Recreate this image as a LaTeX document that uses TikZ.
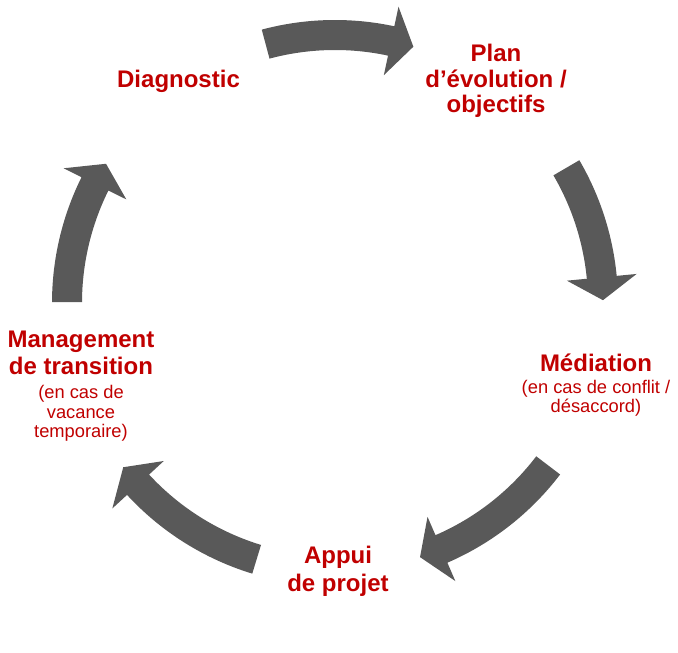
\documentclass[tikz,border=0pt]{standalone}
\usepackage{fontspec}
\setmainfont{Liberation Sans}
\definecolor{arrowgray}{HTML}{595959}
\definecolor{labelred}{HTML}{C00000}
\newcommand\subline{\mdseries\fontsize{18.3}{19.5}\selectfont}
\newcommand\ringarrow[2]{%
  \pgfmathsetmacro\hb{#2+4.9}%
  \fill[arrowgray] (#1:283) arc[start angle=#1, end angle=\hb, radius=283]
    -- (\hb:303) -- (#2:268) -- (\hb:233) -- (\hb:253)
    arc[start angle=\hb, end angle=#1, radius=253] -- cycle;}
\tikzset{lbl/.style={text=labelred,
  font={\lineskiplimit=-50pt\lineskip=0pt\bfseries\fontsize{24}{19.5}\selectfont},
  align=center, inner sep=0pt, anchor=base}}
\begin{document}
\begin{tikzpicture}[x=1pt,y=1pt]
\useasboundingbox (0,0) rectangle (678,653);
\coordinate (ctr) at (335,350);
\begin{scope}[shift={(ctr)}]
  \ringarrow{105}{73}
  \ringarrow{30.3}{0.6}
  \ringarrow{-37.3}{-71.5}
  \ringarrow{-107}{-142.2}
  \ringarrow{179.8}{148.7}
\end{scope}
\node[lbl] (diag) at (178.5,565) {Diagnostic};
\node[lbl] (plan) at (496,540) {Plan\\[6pt]d’évolution /\\[6pt]objectifs};
\node[lbl] (med) at (596,240) {Médiation\\[2.5pt]\subline (en cas de conflit /\\[-0.5pt]\subline désaccord)};
\node[lbl] (appui) at (338,61) {Appui\\[9pt]de projet};
\node[lbl] (mgmt) at (81,215) {Management\\[7.5pt]de transition\\[4.5pt]\subline (en cas de\\\subline vacance\\\subline temporaire)};
\end{tikzpicture}
\end{document}
